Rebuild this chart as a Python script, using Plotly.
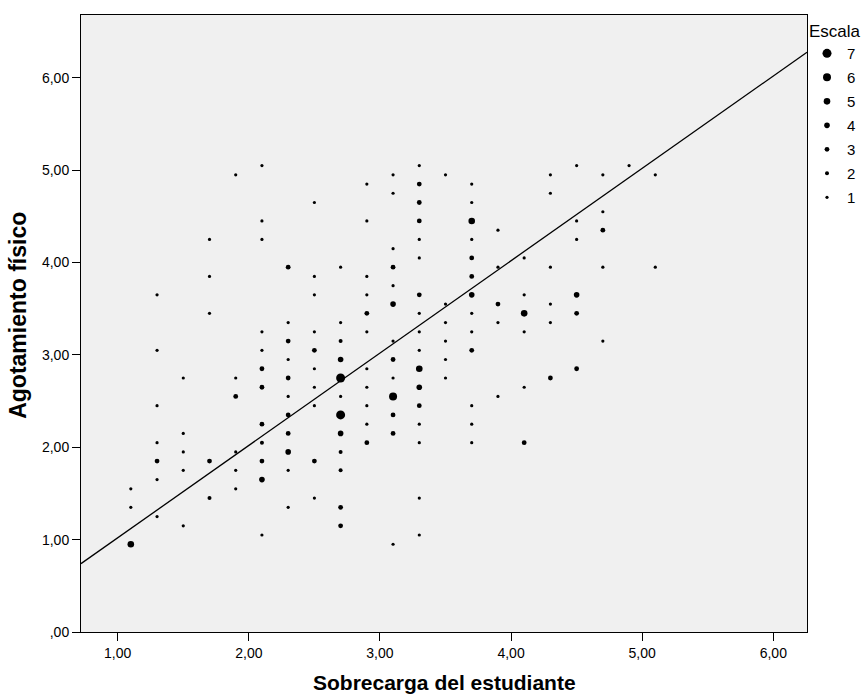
import plotly.graph_objects as go

# ---- data: (Sobrecarga, Agotamiento, Escala = number of overlapping cases) ----
sobrecarga = (
    [1.1] * 3 + [1.3] * 7 + [1.5] * 5 + [1.7] * 5 + [1.9] * 6 + [2.1] * 12 +
    [2.3] * 11 + [2.5] * 10 + [2.7] * 12 + [2.9] * 11 + [3.1] * 13 + [3.3] * 17 +
    [3.5] * 6 + [3.7] * 13 + [3.9] * 5 + [4.1] * 6 + [4.3] * 6 + [4.5] * 6 +
    [4.7] * 5 + [4.9] * 1 + [5.1] * 2
)
agotamiento = [
    1.55, 1.35, 0.95,
    3.65, 3.05, 2.45, 2.05, 1.85, 1.65, 1.25,
    2.75, 2.15, 1.95, 1.75, 1.15,
    4.25, 3.85, 3.45, 1.85, 1.45,
    4.95, 2.75, 2.55, 1.95, 1.75, 1.55,
    5.05, 4.45, 4.25, 3.25, 3.05, 2.85, 2.65, 2.25, 2.05, 1.85, 1.65, 1.05,
    3.95, 3.35, 3.15, 2.95, 2.75, 2.55, 2.35, 2.15, 1.95, 1.75, 1.35,
    4.65, 3.85, 3.65, 3.25, 3.05, 2.85, 2.65, 2.45, 1.85, 1.45,
    3.95, 3.35, 3.15, 2.95, 2.75, 2.55, 2.35, 2.15, 1.95, 1.75, 1.35, 1.15,
    4.85, 4.45, 3.85, 3.65, 3.45, 3.25, 2.85, 2.65, 2.45, 2.25, 2.05,
    4.95, 4.75, 4.15, 3.95, 3.75, 3.55, 3.15, 2.95, 2.75, 2.55, 2.35, 2.15, 0.95,
    5.05, 4.85, 4.65, 4.45, 4.25, 4.05, 3.65, 3.45, 3.25, 3.05, 2.85, 2.65, 2.45, 2.25, 2.05, 1.45, 1.05,
    4.95, 3.55, 3.35, 3.15, 2.95, 2.75,
    4.85, 4.65, 4.45, 4.25, 4.05, 3.85, 3.65, 3.45, 3.25, 3.05, 2.45, 2.25, 2.05,
    4.35, 3.95, 3.55, 3.35, 2.55,
    4.05, 3.65, 3.45, 3.25, 2.65, 2.05,
    4.95, 4.75, 3.95, 3.55, 3.35, 2.75,
    5.05, 4.45, 4.25, 3.65, 3.45, 2.85,
    4.95, 4.55, 4.35, 3.95, 3.15,
    5.05,
    4.95, 3.95,
]
escala = [
    1, 1, 5,
    1, 1, 1, 1, 3, 1, 1,
    1, 1, 1, 1, 1,
    1, 1, 1, 3, 2,
    1, 1, 3, 1, 1, 1,
    1, 1, 1, 1, 1, 3, 3, 3, 2, 3, 4, 1,
    3, 1, 3, 1, 3, 1, 3, 3, 4, 1, 1,
    1, 1, 1, 1, 3, 1, 1, 1, 3, 1,
    1, 1, 2, 4, 7, 1, 7, 4, 2, 2, 3, 3,
    1, 1, 1, 1, 3, 1, 1, 1, 1, 1, 3,
    1, 1, 1, 3, 1, 4, 1, 3, 1, 6, 3, 3, 1,
    1, 3, 3, 3, 1, 1, 3, 1, 1, 1, 5, 4, 3, 1, 1, 1, 1,
    1, 1, 1, 1, 1, 1,
    1, 1, 5, 1, 3, 3, 4, 1, 1, 3, 1, 1, 1,
    1, 1, 3, 1, 1,
    1, 1, 5, 1, 1, 3,
    1, 1, 1, 1, 1, 3,
    1, 1, 1, 4, 3, 3,
    1, 1, 3, 1, 1,
    1,
    1, 1,
]

escala_levels = [7, 6, 5, 4, 3, 2, 1]
fit_intercept = 0.02
fit_slope = 1.0

x_tick_vals = [1, 2, 3, 4, 5, 6]
x_tick_text = ["1,00", "2,00", "3,00", "4,00", "5,00", "6,00"]
y_tick_vals = [0, 1, 2, 3, 4, 5, 6]
y_tick_text = [",00", "1,00", "2,00", "3,00", "4,00", "5,00", "6,00"]

x_range = [0.72, 6.257]
y_range = [0, 6.68]

# ---- styling ----
marker_px = {1: 3.2, 2: 4.0, 3: 4.8, 4: 5.6, 5: 6.6, 6: 8.0, 7: 9.0}
FONT = "Liberation Sans, Arial, sans-serif"

fig = go.Figure()

# regression line
fig.add_trace(go.Scatter(
    x=x_range,
    y=[fit_intercept + fit_slope * v for v in x_range],
    mode="lines",
    line=dict(color="black", width=1.3),
    showlegend=False,
    hoverinfo="skip",
))

for lvl in escala_levels:
    xs = [x for x, e in zip(sobrecarga, escala) if e == lvl]
    ys = [y for y, e in zip(agotamiento, escala) if e == lvl]
    fig.add_trace(go.Scatter(
        x=xs, y=ys, mode="markers",
        name=str(lvl), legendgroup=str(lvl),
        marker=dict(color="black", size=marker_px[lvl], line=dict(width=0)),
    ))

axis_common = dict(
    showgrid=False, zeroline=False,
    showline=True, mirror=True, linecolor="black", linewidth=1,
    ticks="outside", ticklen=8, tickcolor="black", tickwidth=1,
    tickfont=dict(family=FONT, size=14, color="black"),
)

fig.update_layout(
    width=866, height=697,
    margin=dict(l=81, r=59, t=15, b=65, autoexpand=False),
    paper_bgcolor="white",
    plot_bgcolor="#f0f0f0",
    font=dict(family=FONT, color="black"),
    xaxis=dict(range=x_range, tickvals=x_tick_vals, ticktext=x_tick_text,
               **axis_common),
    yaxis=dict(range=y_range, tickvals=y_tick_vals, ticktext=y_tick_text,
               **axis_common),
    legend=dict(
        title=dict(text="Escala", font=dict(family=FONT, size=17)),
        font=dict(family=FONT, size=15),
        x=1.0, xanchor="left", y=1.0, yanchor="top",
        tracegroupgap=1.5, bgcolor="rgba(0,0,0,0)",
        itemwidth=30,
    ),
    annotations=[
        dict(text="<b>Sobrecarga del estudiante</b>", xref="paper", yref="paper",
             x=0.5, y=0, yshift=-50, xanchor="center", yanchor="middle",
             showarrow=False, font=dict(family=FONT, size=21)),
        dict(text="<b>Agotamiento físico</b>", xref="paper", yref="paper",
             x=0, y=0.5125, xshift=-63, xanchor="center", yanchor="middle",
             textangle=-90, showarrow=False, font=dict(family=FONT, size=23)),
    ],
)

fig.write_html("out.html")
